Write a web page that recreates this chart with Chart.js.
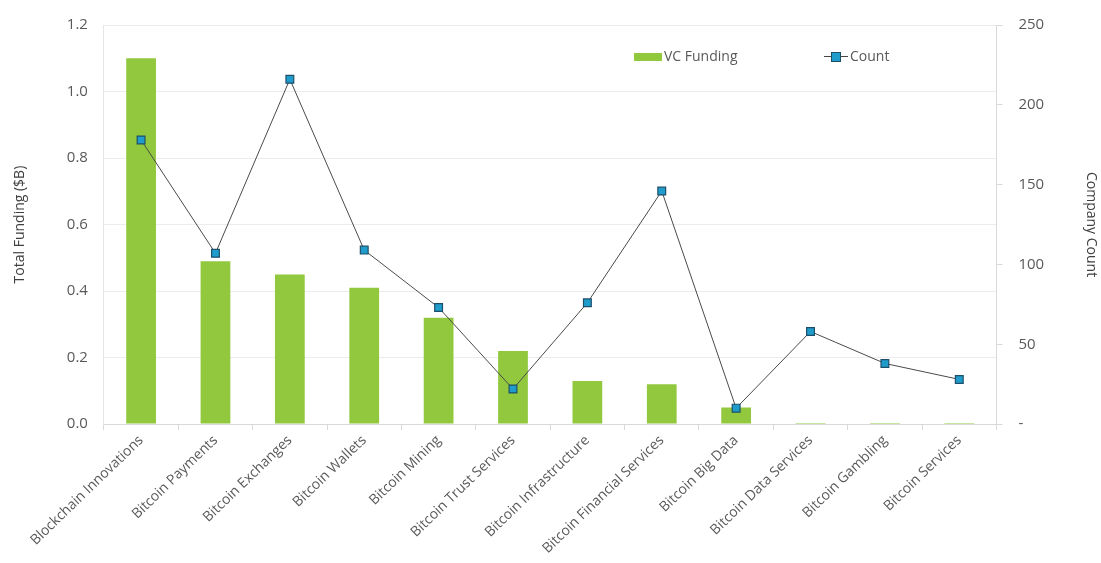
<!DOCTYPE html>
<html>
<head>
<meta charset="utf-8">
<script src="https://cdn.jsdelivr.net/npm/chart.js@4"></script>
<style>
  html, body { margin: 0; padding: 0; background: #fff; }
  #wrap { position: relative; width: 1101px; height: 563px; }
  #legend { position: absolute; top: 46px; left: 634px; font-family: "Open Sans", sans-serif; font-size: 14px; color: #595959; }
  #legend span.item { position: absolute; white-space: nowrap; top: 0; }
  .swatch { display: inline-block; width: 28px; height: 8px; background: #92c83e; vertical-align: middle; margin-right: 2px; }
  .lineMark { display: inline-block; position: relative; width: 24px; height: 10px; vertical-align: middle; margin-right: 2px; }
  .lineMark:before { content: ""; position: absolute; left: 0; right: 0; top: 4px; height: 1px; background: #444; }
  .lineMark:after { content: ""; position: absolute; left: 7px; top: 0; width: 8px; height: 8px; background: #1f9ccb; border: 1px solid #1d4f6a; }
</style>
</head>
<body>
<div id="wrap">
  <canvas id="chart" width="1101" height="563"></canvas>
  <div id="legend">
    <span class="item" style="left:0"><span class="swatch"></span>VC Funding</span>
    <span class="item" style="left:190px"><span class="lineMark"></span>Count</span>
  </div>
</div>
<script>
const categories = ['Blockchain Innovations', 'Bitcoin Payments', 'Bitcoin Exchanges', 'Bitcoin Wallets', 'Bitcoin Mining',
  'Bitcoin Trust Services', 'Bitcoin Infrastructure', 'Bitcoin Financial Services', 'Bitcoin Big Data',
  'Bitcoin Data Services', 'Bitcoin Gambling', 'Bitcoin Services'];
const vcFunding = [1.10, 0.49, 0.45, 0.41, 0.32, 0.22, 0.13, 0.12, 0.05, 0.003, 0.003, 0.003];
const companyCount = [178, 107, 216, 109, 73, 22, 76, 146, 10, 58, 38, 28];

const fontFamily = '"Open Sans", sans-serif';

const ctx = document.getElementById('chart');
new Chart(ctx, {
  data: {
    labels: categories,
    datasets: [
      {
        type: 'line',
        label: 'Count',
        data: companyCount,
        yAxisID: 'yCount',
        borderColor: '#4a4a4a',
        borderWidth: 1,
        pointStyle: 'rect',
        pointRadius: 5.5,
        pointBackgroundColor: '#1f9ccb',
        pointBorderColor: '#1d4f6a',
        pointBorderWidth: 1.2,
        tension: 0,
        order: 0
      },
      {
        type: 'bar',
        label: 'VC Funding',
        data: vcFunding,
        yAxisID: 'yFunding',
        backgroundColor: '#92c83e',
        categoryPercentage: 0.8,
        barPercentage: 0.5,
        order: 1
      }
    ]
  },
  options: {
    responsive: false,
    animation: false,
    layout: { padding: { left: 8, right: 0, top: 5, bottom: 4 } },
    plugins: {
      legend: { display: false },
      tooltip: { enabled: false }
    },
    scales: {
      x: {
        offset: true,
        grid: { display: true, offset: true, drawOnChartArea: false, drawTicks: true, tickLength: 6, color: '#d9d9d9' },
        border: { color: '#d9d9d9' },
        ticks: {
          minRotation: 44, maxRotation: 44, autoSkip: false,
          color: '#595959', font: { family: fontFamily, size: 14 }, padding: 2
        }
      },
      yFunding: {
        position: 'left',
        min: 0, max: 1.2,
        ticks: {
          stepSize: 0.2, color: '#595959', font: { family: fontFamily, size: 15 }, padding: 16,
          callback: v => v.toFixed(1)
        },
        grid: { color: '#ececec', drawTicks: false },
        border: { color: '#e6e6e6' },
        title: { display: true, text: 'Total Funding ($B)', color: '#404040', font: { family: fontFamily, size: 14 }, padding: { bottom: 22 } }
      },
      yCount: {
        position: 'right',
        min: 0, max: 250,
        ticks: {
          stepSize: 50, color: '#595959', font: { family: fontFamily, size: 15 }, padding: 16,
          callback: v => v === 0 ? '-' : v
        },
        grid: { drawOnChartArea: false, drawTicks: true, tickLength: 6, color: '#d9d9d9' },
        border: { color: '#d9d9d9' },
        title: { display: true, text: 'Company Count', color: '#404040', font: { family: fontFamily, size: 14 }, padding: { top: 2, bottom: 22 } }
      }
    }
  }
});
</script>
</body>
</html>
